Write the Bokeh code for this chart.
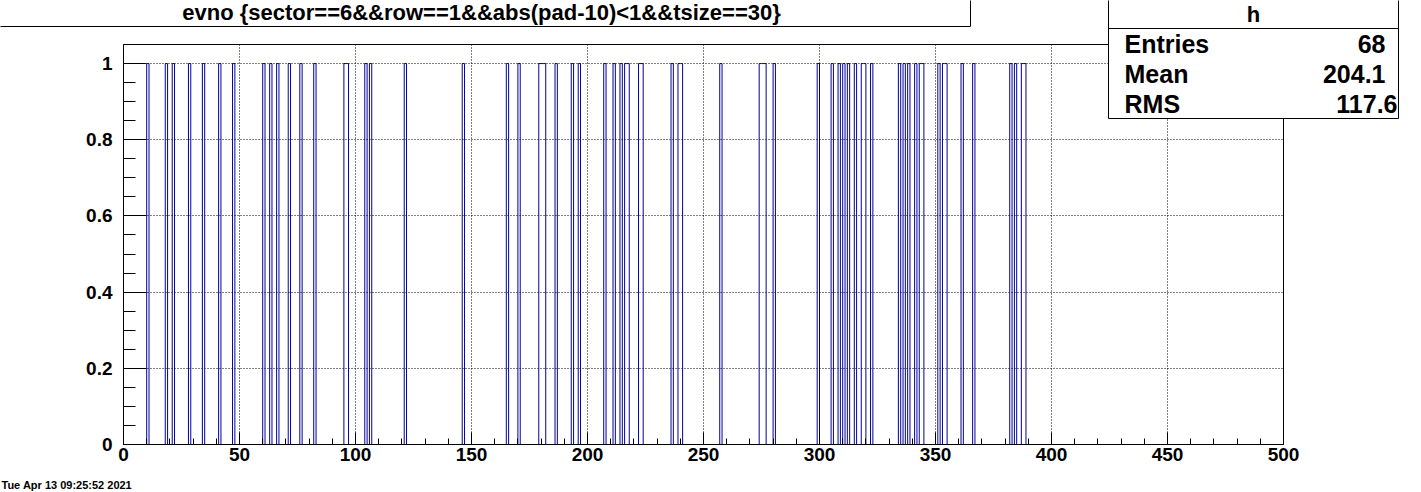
import numpy as np
from bokeh.plotting import figure
from bokeh.models import Range1d, SingleIntervalTicker, FixedTicker, Label, GridBox
from bokeh.embed import file_html
from bokeh.resources import INLINE

# ---- data ----
evno = [10, 18, 21, 28, 34, 41, 47, 60, 63, 66, 71, 76, 82, 95, 96, 104, 106, 121, 146,
        165, 170, 179, 180, 181, 186, 193, 196, 207, 211, 214, 216, 217, 222, 223, 236,
        239, 240, 257, 274, 275, 276, 280, 299, 305, 308, 310, 312, 315, 318, 319, 322,
        334, 336, 338, 341, 343, 344, 351, 353, 354, 361, 366, 382, 384, 387, 388]
n_bins = 500
x_min, x_max = 0, 500
y_lo, y_hi = 0, 1.05
y_ticks = [0, 0.2, 0.4, 0.6, 0.8, 1]
y_tick_labels = ["0", "0.2", "0.4", "0.6", "0.8", "1"]
title_text = "evno {sector==6&&row==1&&abs(pad-10)<1&&tsize==30}"
stats_title = "h"
stats_names = ["Entries", "Mean", "RMS"]
stats_values = ["68", "204.1", "117.6"]
date_text = "Tue Apr 13 09:25:52 2021"

# ---- histogram outline ----
counts, edges = np.histogram(evno, bins=n_bins, range=(x_min, x_max))
xs = np.concatenate([[edges[0]], np.repeat(edges, 2)[1:-1], [edges[-1]]])
ys = np.concatenate([[0], np.repeat(counts, 2), [0]]).astype(float)

# ---- layout ----
FW, FH = 1421, 492
L, R, T, B = 123, 138, 44, 48
FONT = "Liberation Sans"

p = figure(width=FW, height=FH, output_backend="svg", toolbar_location=None,
           x_range=Range1d(x_min, x_max), y_range=Range1d(y_lo, y_hi),
           min_border_left=L, min_border_right=R, min_border_top=T, min_border_bottom=B)
p.frame_align = False
p.background_fill_color = "white"
p.border_fill_color = "white"
p.outline_line_color = "black"
p.outline_line_width = 1

p.line(xs, ys, line_color="#000099", line_width=1)

p.xaxis.ticker = SingleIntervalTicker(interval=50, num_minor_ticks=5)
p.yaxis.ticker = FixedTicker(ticks=y_ticks, minor_ticks=[i * 0.05 for i in range(21)])
p.yaxis.major_label_overrides = {t: s for t, s in zip(y_ticks, y_tick_labels)}
for ax in (p.xaxis[0], p.yaxis[0]):
    ax.axis_line_color = "black"
    ax.major_tick_line_color = "black"
    ax.minor_tick_line_color = "black"
    ax.major_tick_out = 0
    ax.minor_tick_out = 0
    ax.major_label_text_font = FONT
    ax.major_label_text_font_style = "bold"
    ax.major_label_text_font_size = "19px"
    ax.major_label_text_color = "black"
p.xaxis.major_tick_in = 12
p.xaxis.minor_tick_in = 6
p.xaxis.major_label_standoff = 3
p.yaxis.major_tick_in = 23
p.yaxis.minor_tick_in = 12
p.yaxis.major_label_standoff = 11

for g in (p.xgrid[0], p.ygrid[0]):
    g.grid_line_color = "black"
    g.grid_line_dash = "1 2"
    g.grid_line_width = 1
p.xgrid.ticker = SingleIntervalTicker(interval=50)
p.ygrid.ticker = FixedTicker(ticks=y_ticks)

# ---- overlay canvas (pixel coordinates) for title box, stats box, date ----
ov = figure(width=FW, height=FH, output_backend="svg", toolbar_location=None,
            x_range=Range1d(0, FW), y_range=Range1d(FH, 0),
            x_axis_type=None, y_axis_type=None,
            min_border_left=0, min_border_right=0, min_border_top=0, min_border_bottom=0)
ov.frame_align = False
ov.grid.visible = False
ov.outline_line_color = None
ov.background_fill_alpha = 0
ov.border_fill_alpha = 0

# title box
ov.quad(left=[-8], right=[970], top=[-2], bottom=[26], fill_color="white",
        line_color="black", line_width=1)
ov.add_layout(Label(x=481, y=12, text=title_text, text_align="center",
                    text_baseline="middle", text_font=FONT, text_font_style="bold",
                    text_font_size="22px", text_color="black"))

# stats box
ov.quad(left=[1108], right=[1398], top=[-2], bottom=[118], fill_color="white",
        line_color="black", line_width=1)
ov.segment(x0=[1108], y0=[28], x1=[1398], y1=[28], line_color="black", line_width=1)
ov.add_layout(Label(x=1253, y=14, text=stats_title, text_align="center",
                    text_baseline="middle", text_font=FONT, text_font_style="bold",
                    text_font_size="22px", text_color="black"))
value_right = [1385, 1385, 1397]
for i, (nm, val) in enumerate(zip(stats_names, stats_values)):
    yy = 43 + 30 * i
    ov.add_layout(Label(x=1124, y=yy, text=nm, text_align="left",
                        text_baseline="middle", text_font=FONT, text_font_style="bold",
                        text_font_size="25px", text_color="black"))
    ov.add_layout(Label(x=value_right[i], y=yy, text=val, text_align="right",
                        text_baseline="middle", text_font=FONT, text_font_style="bold",
                        text_font_size="25px", text_color="black"))

# date stamp
ov.add_layout(Label(x=1, y=484, text=date_text, text_align="left",
                    text_baseline="middle", text_font=FONT, text_font_style="bold",
                    text_font_size="11px", text_color="black"))

layout = GridBox(children=[(p, 0, 0), (ov, 0, 0)])

open("out.html", "w").write(file_html(layout, INLINE))
